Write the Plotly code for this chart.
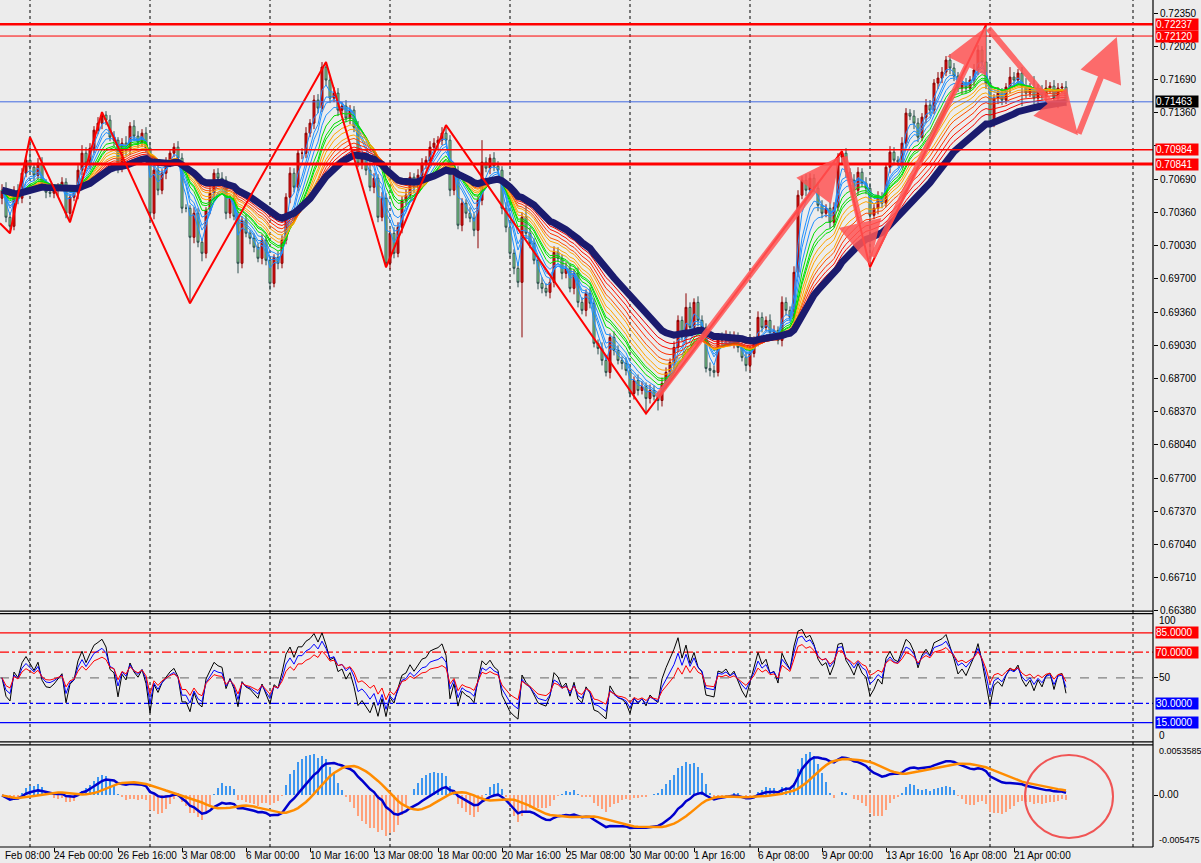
import numpy as np
import pandas as pd
import plotly.graph_objects as go

# ---------------- data (prices in pips = price*10000) ----------------
close_pips = [
    7058, 7031, 7022, 7058, 7050, 7075, 7088, 7081, 7073, 7085,
    7065, 7056, 7055, 7058, 7062, 7066, 7035, 7051, 7055, 7078,
    7095, 7085, 7100, 7118, 7125, 7133, 7128, 7111, 7108, 7080,
    7105, 7098, 7122, 7112, 7106, 7115, 7100, 7035, 7078, 7058,
    7075, 7086, 7095, 7101, 7090, 7040, 7040, 7011, 7035, 7006,
    6995, 7038, 7055, 7075, 7070, 7068, 7035, 7050, 7032, 6985,
    7028, 7015, 7010, 7001, 6990, 7008, 6988, 6965, 6991, 6985,
    7008, 7051, 7075, 7061, 7095, 7095, 7115, 7125, 7148, 7140,
    7181, 7168, 7150, 7155, 7138, 7142, 7130, 7138, 7121, 7085,
    7090, 7078, 7061, 7070, 7031, 7050, 6985, 7015, 6995, 7021,
    7048, 7053, 7071, 7061, 7073, 7085, 7088, 7101, 7105, 7108,
    7115, 7108, 7058, 7076, 7023, 7045, 7035, 7030, 7018, 7048,
    7086, 7080, 7090, 7082, 7078, 7040, 7021, 6995, 6980, 6966,
    7031, 7015, 7005, 6988, 6965, 6960, 6956, 6966, 6996, 6990,
    6975, 6980, 6960, 6975, 6946, 6938, 6955, 6945, 6905, 6900,
    6888, 6876, 6911, 6898, 6888, 6885, 6878, 6855, 6868, 6858,
    6862, 6850, 6858, 6852, 6848, 6865, 6876, 6886, 6901, 6928,
    6911, 6941, 6921, 6946, 6928, 6921, 6880, 6878, 6876, 6910,
    6908, 6913, 6906, 6911, 6901, 6891, 6883, 6895, 6908, 6931,
    6921, 6928, 6916, 6918, 6908, 6946, 6938, 6931, 6976, 7053,
    7068, 7058, 7070, 7060, 7043, 7035, 7040, 7026, 7041, 7091,
    7095, 7076, 7068, 7058, 7076, 7065, 7060, 7033, 7040, 7051,
    7045, 7081, 7096, 7088, 7086, 7105, 7135, 7132, 7125, 7111,
    7131, 7143, 7138, 7165, 7170, 7176, 7188, 7180, 7172, 7160,
    7165, 7160, 7168, 7178, 7198, 7186, 7165, 7125, 7150, 7155,
    7148, 7161, 7171, 7168, 7175, 7162, 7155, 7160, 7150, 7158,
    7152, 7160, 7162, 7150, 7160, 7161, 7146,
]
first_open_pips = 7050
wick_up = [
    6, 8, 5, 4, 6, 5, 4, 23, 4, 5,
    6, 4, 5, 6, 3, 5, 4, 3, 6, 5,
    8, 6, 5, 4, 6, 3, 4, 5, 6, 3,
    5, 7, 4, 6, 5, 4, 6, 6, 5, 8,
    4, 5, 3, 4, 6, 5, 4, 3, 6, 5,
    4, 3, 6, 4, 5, 6, 4, 3, 6, 5,
    4, 6, 3, 5, 4, 6, 5, 4, 3, 6,
    5, 4, 6, 5, 4, 5, 6, 4, 5, 6,
    5, 5, 4, 6, 5, 4, 6, 5, 4, 6,
    5, 4, 6, 5, 4, 6, 5, 4, 6, 5,
    4, 6, 5, 4, 6, 5, 4, 6, 5, 4,
    6, 8, 5, 4, 6, 5, 4, 6, 5, 4,
    22, 5, 4, 6, 5, 4, 6, 5, 4, 6,
    5, 12, 6, 5, 4, 6, 5, 4, 6, 5,
    4, 6, 5, 4, 6, 5, 4, 6, 5, 4,
    6, 5, 4, 6, 5, 4, 6, 5, 4, 6,
    5, 4, 6, 5, 4, 6, 5, 4, 6, 5,
    4, 14, 5, 4, 6, 5, 4, 6, 5, 4,
    6, 5, 4, 6, 5, 4, 6, 5, 4, 6,
    5, 4, 6, 5, 4, 6, 5, 4, 6, 5,
    4, 6, 5, 4, 6, 5, 4, 6, 5, 4,
    2, 5, 4, 6, 5, 4, 6, 5, 4, 6,
    5, 4, 6, 5, 4, 6, 5, 4, 6, 5,
    4, 6, 5, 4, 6, 5, 4, 6, 5, 4,
    6, 5, 4, 6, 5, 4, 37, 5, 4, 6,
    5, 4, 10, 5, 4, 6, 8, 5, 12, 6,
    5, 8, 4, 6, 5, 4, 6,
]
wick_dn = [
    6, 5, 7, 4, 6, 5, 4, 5, 6, 4,
    5, 6, 4, 5, 6, 4, 5, 9, 4, 6,
    5, 4, 6, 5, 4, 6, 5, 4, 6, 5,
    4, 6, 5, 4, 6, 5, 4, 8, 6, 5,
    4, 6, 5, 4, 6, 5, 4, 66, 6, 5,
    8, 5, 4, 6, 5, 4, 6, 5, 4, 10,
    5, 4, 6, 5, 4, 6, 5, 7, 4, 6,
    5, 4, 6, 5, 4, 6, 5, 4, 6, 5,
    4, 6, 5, 4, 6, 5, 4, 6, 5, 4,
    6, 5, 4, 6, 5, 4, 4, 6, 5, 4,
    6, 5, 4, 6, 5, 4, 6, 5, 4, 6,
    5, 4, 6, 5, 4, 6, 5, 4, 6, 18,
    5, 4, 6, 5, 4, 6, 5, 4, 6, 5,
    55, 6, 5, 4, 6, 5, 4, 6, 5, 4,
    6, 5, 4, 6, 5, 4, 6, 5, 4, 6,
    5, 4, 6, 5, 4, 6, 5, 4, 6, 5,
    4, 15, 5, 4, 10, 6, 5, 4, 6, 5,
    4, 6, 5, 4, 6, 5, 4, 6, 5, 4,
    6, 5, 4, 6, 5, 4, 6, 5, 4, 6,
    5, 4, 6, 5, 4, 6, 5, 4, 6, 5,
    4, 6, 5, 4, 6, 5, 4, 6, 5, 4,
    6, 5, 4, 6, 5, 4, 6, 52, 4, 6,
    5, 4, 6, 5, 4, 6, 5, 4, 6, 5,
    4, 6, 5, 4, 6, 5, 4, 6, 5, 4,
    6, 5, 4, 6, 5, 4, 6, 12, 4, 6,
    5, 4, 6, 5, 4, 20, 5, 4, 6, 5,
    4, 6, 5, 4, 10, 5, 4,
]

# zigzag pivots: bar index, price (pips)
zigzag_bars = [-0.5, 2, 7, 17, 25, 47, 81, 96, 111, 161, 210, 217, 246]
zigzag_pips = [7025, 7015, 7111, 7026, 7136, 6945, 7186, 6981, 7123, 6835, 7097, 6981, 7223]

# hand-drawn arrows: (tail bar, tail pips, head bar, head pips)
arrow_tail_bars = [163.5, 210.5, 217.5, 246.3, 269.0]
arrow_tail_pips = [6850, 7093, 6990, 7221, 7113]
arrow_head_bars = [209.5, 217.0, 246.0, 269.0, 278.7]
arrow_head_pips = [7092, 6983, 7221, 7113, 7211]

# horizontal levels
level_values = [0.72237, 0.72120, 0.71463, 0.70984, 0.70841]
level_labels = ["0.72237", "0.72120", "0.71463", "0.70984", "0.70841"]
level_colors = ["#FF0000", "#FF0000", "#4169E1", "#FF0000", "#FF0000"]
level_widths = [2.5, 1, 1, 1.5, 3]
level_label_bg = ["#FF0000", "#FF0000", "#000000", "#FF0000", "#FF0000"]

# price axis labels (0.71030 sits behind the 0.70984 level box)
price_ticks = [0.72350, 0.72020, 0.71690, 0.71360, 0.71030, 0.70690, 0.70360, 0.70030,
               0.69700, 0.69360, 0.69030, 0.68700, 0.68370, 0.68040, 0.67700, 0.67370,
               0.67040, 0.66710, 0.66380]
price_tick_text = ["" if abs(v - 0.71030) < 1e-9 else "%.5f" % v for v in price_ticks]

# RSI levels
rsi_levels = [85, 70, 50, 30, 15]
rsi_level_colors = ["#FF0000", "#FF0000", "#808080", "#0000FF", "#0000FF"]
rsi_level_dash = ["solid", "dashdot", "dash", "dashdot", "solid"]
rsi_box_levels = [85, 70, 30, 15]
rsi_box_text = ["85.0000", "70.0000", "30.0000", "15.0000"]
rsi_box_bg = ["#FF0000", "#FF0000", "#0000FF", "#0000FF"]

# MACD axis
macd_top, macd_bottom = 0.0053585, -0.005475

# time axis labels (bar index where each label text starts); the first is only partly visible in the original
date_label_bars = [0.75, 13, 29, 45, 61, 77, 93, 109, 125, 141, 157, 173, 189, 205, 221, 237, 253]
date_labels = ["Feb 08:00", "24 Feb 00:00", "26 Feb 16:00", "3 Mar 08:00", "6 Mar 00:00",
               "10 Mar 16:00", "13 Mar 08:00", "18 Mar 00:00", "20 Mar 16:00", "25 Mar 08:00",
               "30 Mar 00:00", "1 Apr 16:00", "6 Apr 08:00", "9 Apr 00:00", "13 Apr 16:00",
               "16 Apr 08:00", "21 Apr 00:00"]
date_tick_bars = [13, 29, 45, 61, 77, 93, 109, 125, 141, 157, 173, 189, 205, 221, 237, 253]
grid_bars = [7, 37, 67, 97, 127, 157, 187, 217, 247, 282.75]

# indicator settings
rainbow_periods = [3, 5, 6, 8, 10, 12, 13, 15, 17, 20, 22, 25, 28, 31]
rainbow_colors = ["#1E90FF"] * 4 + ["#00E000"] * 3 + ["#FFA500"] * 3 + ["#FF5000", "#FF3000", "#FF1000", "#F00000"]
navy_period = 36
rsi_periods = [6, 9, 14]
rsi_colors = ["#000000", "#0000FF", "#FF0000"]
hist_scale = 2.2

# ---------------- derived series ----------------
c_p = np.array(close_pips, dtype=float)
o_p = np.concatenate([[first_open_pips], c_p[:-1]])
close = c_p / 10000
open_ = o_p / 10000
high = (np.maximum(o_p, c_p) + np.array(wick_up)) / 10000
low = (np.minimum(o_p, c_p) - np.array(wick_dn)) / 10000
bars = np.arange(len(close))
cs = pd.Series(close)


def ema(n):
    return cs.ewm(span=n, adjust=False).mean().values


def rsi(n):
    d = np.diff(close, prepend=close[0])
    ag = al = 0.0008  # neutral seed for Wilder averages
    out = []
    for v in d:
        ag = (ag * (n - 1) + max(v, 0)) / n
        al = (al * (n - 1) + max(-v, 0)) / n
        out.append(100 * ag / (ag + al))
    return np.array(out)


macd = ema(12) - ema(26)
signal = pd.Series(macd).rolling(9, min_periods=1).mean().values
hist = hist_scale * (macd - signal)

# ---------------- figure ----------------
W, H = 1201, 863
HV = 857.0  # height actually available to the plot in the viewer window
XR = [-0.5, 287.75]
xdom = [0, 1153 / W]


def py(px):
    return 1 - px / HV


def bar_to_paper(b):
    return (b - XR[0]) / (XR[1] - XR[0]) * xdom[1]


fig = go.Figure()

for p, col in zip(rainbow_periods, rainbow_colors):
    fig.add_trace(go.Scatter(x=bars, y=ema(p), mode="lines", line=dict(color=col, width=1),
                             xaxis="x", yaxis="y", hoverinfo="skip"))
fig.add_trace(go.Scatter(x=bars, y=ema(navy_period), mode="lines", line=dict(color="#1B1B6E", width=7),
                         xaxis="x", yaxis="y", hoverinfo="skip"))
fig.add_trace(go.Candlestick(x=bars, open=open_, high=high, low=low, close=close,
                             increasing=dict(line=dict(color="#8B0000", width=1), fillcolor="#EE1111"),
                             decreasing=dict(line=dict(color="#2F4F4F", width=1), fillcolor="#90EE90"),
                             whiskerwidth=0, xaxis="x", yaxis="y", hoverinfo="skip"))
fig.add_trace(go.Scatter(x=zigzag_bars, y=np.array(zigzag_pips) / 10000, mode="lines",
                         line=dict(color="#FF0000", width=2), xaxis="x", yaxis="y", hoverinfo="skip"))

# RSI
for n, col in zip(rsi_periods, rsi_colors):
    fig.add_trace(go.Scatter(x=bars, y=rsi(n), mode="lines", line=dict(color=col, width=1),
                             xaxis="x2", yaxis="y2", hoverinfo="skip"))

# MACD
fig.add_trace(go.Bar(x=bars, y=hist, width=0.7,
                     marker=dict(color=["#3C96F0" if v >= 0 else "#FFA07A" for v in hist], line=dict(width=0)),
                     xaxis="x3", yaxis="y3", hoverinfo="skip"))
fig.add_trace(go.Scatter(x=bars, y=macd, mode="lines", line=dict(color="#0000CD", width=2.5),
                         xaxis="x3", yaxis="y3", hoverinfo="skip"))
fig.add_trace(go.Scatter(x=bars, y=signal, mode="lines", line=dict(color="#FF8C00", width=2.5),
                         xaxis="x3", yaxis="y3", hoverinfo="skip"))

shapes = []
for v, col, w in zip(level_values, level_colors, level_widths):
    shapes.append(dict(type="line", xref="paper", yref="y", x0=0, x1=xdom[1], y0=v, y1=v,
                       line=dict(color=col, width=w), layer="above"))
for v, col, d in zip(rsi_levels, rsi_level_colors, rsi_level_dash):
    shapes.append(dict(type="line", xref="paper", yref="y2", x0=0, x1=xdom[1], y0=v, y1=v,
                       line=dict(color=col, width=1.2, dash=d), layer="below"))
for b in grid_bars:
    shapes.append(dict(type="line", xref="x", yref="paper", x0=b, x1=b, y0=py(846), y1=1,
                       line=dict(color="#000000", width=1, dash="3px,3px"), layer="below"))
for ypx in [610.5, 613, 741, 744, 846]:
    shapes.append(dict(type="line", xref="paper", yref="paper", x0=0, x1=xdom[1], y0=py(ypx), y1=py(ypx),
                       line=dict(color="#000000", width=1.2)))
shapes.append(dict(type="line", xref="paper", yref="paper", x0=xdom[1], x1=xdom[1], y0=py(846), y1=1,
                   line=dict(color="#000000", width=1.2)))
shapes.append(dict(type="circle", xref="paper", yref="paper", x0=1025 / W, x1=1113 / W,
                   y0=py(837), y1=py(754), line=dict(color="#F05555", width=2)))

annotations = []
lab_x = 1155 / W
FONT = "Liberation Sans, Arial, sans-serif"
for v, t, bg in zip(level_values, level_labels, level_label_bg):
    annotations.append(dict(x=lab_x, y=v, xref="paper", yref="y", text=t, showarrow=False,
                            xanchor="left", yanchor="middle", bgcolor=bg, width=42, height=11,
                            align="left", borderpad=0, font=dict(color="#FFFFFF", size=10, family=FONT)))
for v, t, bg in zip(rsi_box_levels, rsi_box_text, rsi_box_bg):
    annotations.append(dict(x=lab_x, y=v, xref="paper", yref="y2", text=t, showarrow=False,
                            xanchor="left", yanchor="middle", bgcolor=bg, width=42, height=11,
                            align="left", borderpad=0, font=dict(color="#FFFFFF", size=10, family=FONT)))
for t, ypx, fs in [("100", 620, 10), ("50", 677, 10), ("0", 735, 10),
                   ("0.0053585", 750, 9), ("0.00", 794, 10), ("-0.005475", 839, 9)]:
    annotations.append(dict(x=1157 / W, y=py(ypx), xref="paper", yref="paper", text=t, showarrow=False,
                            xanchor="left", yanchor="middle", font=dict(color="#000000", size=fs, family=FONT)))
for b, t in zip(date_label_bars, date_labels):
    annotations.append(dict(x=bar_to_paper(b), y=py(855), xref="paper", yref="paper", text=t, showarrow=False,
                            xanchor="left", yanchor="middle", xshift=-2,
                            font=dict(color="#000000", size=10, family=FONT)))
for tb, tp, hb, hp in zip(arrow_tail_bars, arrow_tail_pips, arrow_head_bars, arrow_head_pips):
    annotations.append(dict(x=hb, y=hp / 10000, ax=tb, ay=tp / 10000, xref="x", yref="y", axref="x", ayref="y",
                            text="", showarrow=True, arrowhead=2, arrowsize=1.45, arrowwidth=6,
                            arrowcolor="rgba(255,85,85,0.85)"))

axis_common = dict(range=XR, domain=xdom, showgrid=False, zeroline=False, showline=False, fixedrange=True)
fig.update_layout(
    width=W, height=H, autosize=False, margin=dict(l=0, r=0, t=0, b=0, pad=0),
    paper_bgcolor="#ECECEC", plot_bgcolor="#ECECEC",
    showlegend=False, hovermode=False, bargap=0,
    font=dict(family=FONT, size=10, color="#000000"),
    xaxis=dict(**axis_common, anchor="y", showticklabels=False, rangeslider=dict(visible=False)),
    xaxis2=dict(**axis_common, anchor="y2", showticklabels=False),
    xaxis3=dict(**axis_common, anchor="y3", showticklabels=False, ticks="outside", ticklen=4,
                tickvals=date_tick_bars, tickcolor="#000000"),
    yaxis=dict(domain=[py(610), 1], range=[0.6638, 0.7248], side="right", anchor="x", fixedrange=True,
               tickvals=price_ticks, ticktext=price_tick_text, ticks="outside", ticklen=4,
               tickcolor="#000000", showgrid=False, zeroline=False, showline=False,
               tickfont=dict(size=10, family=FONT, color="#000000")),
    yaxis2=dict(domain=[py(741), py(613)], range=[0, 100], side="right", anchor="x2", fixedrange=True,
                tickvals=[50], ticks="outside", ticklen=4, tickcolor="#000000", showticklabels=False,
                showgrid=False, zeroline=False, showline=False),
    yaxis3=dict(domain=[py(846), py(744)], range=[macd_bottom, macd_top], side="right", anchor="x3",
                fixedrange=True, tickvals=[0], ticks="outside", ticklen=4, tickcolor="#000000",
                showticklabels=False, showgrid=False, zeroline=False, showline=False),
    shapes=shapes, annotations=annotations,
)

fig.write_html("out.html",
               config={"displayModeBar": False, "staticPlot": True, "responsive": False},
               post_script="document.body.style.margin='0px';document.body.style.overflow='hidden';"
                           "document.body.style.background='#ECECEC';")
